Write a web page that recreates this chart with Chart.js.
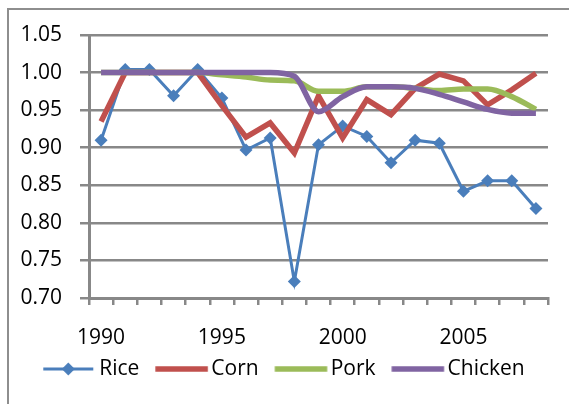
<!DOCTYPE html>
<html>
<head>
<meta charset="utf-8">
<script src="https://cdn.jsdelivr.net/npm/chart.js@4/dist/chart.umd.min.js"></script>
<style>
  html, body { margin: 0; padding: 0; background: #fff; overflow: hidden; }
  #wrap { position: relative; width: 569px; height: 404px; }
  #frame { position: absolute; left: 7px; top: 8px; width: 700px; height: 600px; border: 2px solid #8e8e8e; box-sizing: border-box; }
  canvas { position: absolute; left: 0; top: 0; }
</style>
</head>
<body>
<div id="wrap">
  <div id="frame"></div>
  <canvas id="grafico" width="569" height="404"></canvas>
</div>
<script>
const anos = ['1990','1991','1992','1993','1994','1995','1996','1997','1998','1999',
              '2000','2001','2002','2003','2004','2005','2006','2007','2008'];
const anosVisiveis = ['1990', '1995', '2000', '2005'];

const rice    = [0.910, 1.004, 1.004, 0.969, 1.004, 0.966, 0.897, 0.913, 0.722, 0.904,
                 0.929, 0.915, 0.880, 0.910, 0.906, 0.842, 0.856, 0.856, 0.819];
const corn    = [0.935, 1.000, 1.000, 1.000, 1.000, 0.956, 0.914, 0.933, 0.893, 0.969,
                 0.913, 0.964, 0.944, 0.979, 0.998, 0.989, 0.957, 0.977, 0.999];
const pork    = [1.000, 1.000, 1.000, 1.000, 1.000, 0.997, 0.994, 0.990, 0.989, 0.975,
                 0.975, 0.981, 0.981, 0.979, 0.976, 0.978, 0.978, 0.968, 0.951];
const chicken = [1.000, 1.000, 1.000, 1.000, 1.000, 1.000, 1.000, 1.000, 0.995, 0.948,
                 0.968, 0.981, 0.981, 0.979, 0.971, 0.961, 0.951, 0.946, 0.946];

const corBlue = '#4a7ebb';
const corRed = '#c0504d';
const corGreen = '#9bbb59';
const corPurple = '#8064a2';
const cinza = '#888888';
const fonte = { family: '"Open Sans", sans-serif', size: 21 };

// little pictures for the legend (line, plus diamond for Rice)
// the picture is centred on the legend box, the line is shifted inside it
function iconeLegenda(cor, largura, comprimento, losango) {
  const c = document.createElement('canvas');
  c.width = 74;
  c.height = 18;
  const g = c.getContext('2d');
  const x0 = 17.25;
  g.strokeStyle = cor;
  g.lineWidth = largura;
  g.beginPath();
  g.moveTo(x0, 9);
  g.lineTo(x0 + comprimento, 9);
  g.stroke();
  if (losango) {
    const cx = x0 + comprimento / 2;
    g.fillStyle = cor;
    g.beginPath();
    g.moveTo(cx, 2.5);
    g.lineTo(cx + 6.5, 9);
    g.lineTo(cx, 15.5);
    g.lineTo(cx - 6.5, 9);
    g.closePath();
    g.fill();
  }
  return c;
}

const ctx = document.getElementById('grafico').getContext('2d');
new Chart(ctx, {
  type: 'line',
  data: {
    labels: anos,
    datasets: [
      {
        label: 'Rice',
        data: rice,
        borderColor: corBlue,
        backgroundColor: corBlue,
        borderWidth: 3,
        pointStyle: 'rectRot',
        pointRadius: 6.5,
        pointBorderWidth: 0,
        tension: 0,
        order: 4,
        icone: iconeLegenda(corBlue, 3, 50, true)
      },
      {
        label: 'Corn',
        data: corn,
        borderColor: corRed,
        backgroundColor: corRed,
        borderWidth: 5.5,
        pointRadius: 0,
        tension: 0,
        order: 3,
        icone: iconeLegenda(corRed, 5.5, 52.5, false)
      },
      {
        label: 'Pork',
        data: pork,
        borderColor: corGreen,
        backgroundColor: corGreen,
        borderWidth: 5.5,
        pointRadius: 0,
        cubicInterpolationMode: 'monotone',
        order: 2,
        icone: iconeLegenda(corGreen, 5.5, 52.5, false)
      },
      {
        label: 'Chicken',
        data: chicken,
        borderColor: corPurple,
        backgroundColor: corPurple,
        borderWidth: 5.5,
        pointRadius: 0,
        cubicInterpolationMode: 'monotone',
        order: 1,
        icone: iconeLegenda(corPurple, 5.5, 52.5, false)
      }
    ]
  },
  options: {
    responsive: false,
    animation: false,
    layout: { padding: { left: 14, top: 35, right: 21, bottom: 14.5 } },
    plugins: {
      tooltip: { enabled: false },
      legend: {
        position: 'bottom',
        labels: {
          font: fonte,
          color: '#000',
          usePointStyle: true,
          pointStyleWidth: 51.5,
          padding: 10,
          generateLabels: function (chart) {
            return chart.data.datasets.map((ds, i) => ({
              text: ds.label,
              pointStyle: ds.icone,
              fillStyle: ds.borderColor,
              strokeStyle: ds.borderColor,
              lineWidth: 0,
              hidden: false,
              datasetIndex: i
            }));
          }
        }
      }
    },
    scales: {
      x: {
        offset: true,
        afterFit: function (scale) { scale.height = 50.5; },
        grid: {
          offset: true,
          drawOnChartArea: false,
          drawTicks: true,
          tickLength: 7,
          color: cinza,
          lineWidth: 2.5
        },
        border: { color: cinza, width: 3 },
        ticks: {
          autoSkip: false,
          maxRotation: 0,
          padding: 20,
          font: fonte,
          color: '#000',
          callback: function (valor, i) {
            return anosVisiveis.includes(anos[i]) ? anos[i] : '';
          }
        }
      },
      y: {
        min: 0.70,
        max: 1.05,
        afterFit: function (scale) { scale.width = 75; },
        grid: {
          color: cinza,
          lineWidth: 2.5,
          tickLength: 9
        },
        border: { color: cinza, width: 3 },
        ticks: {
          stepSize: 0.05,
          padding: 18,
          font: fonte,
          color: '#000',
          callback: function (valor) { return valor.toFixed(2); }
        }
      }
    }
  }
});
</script>
</body>
</html>
